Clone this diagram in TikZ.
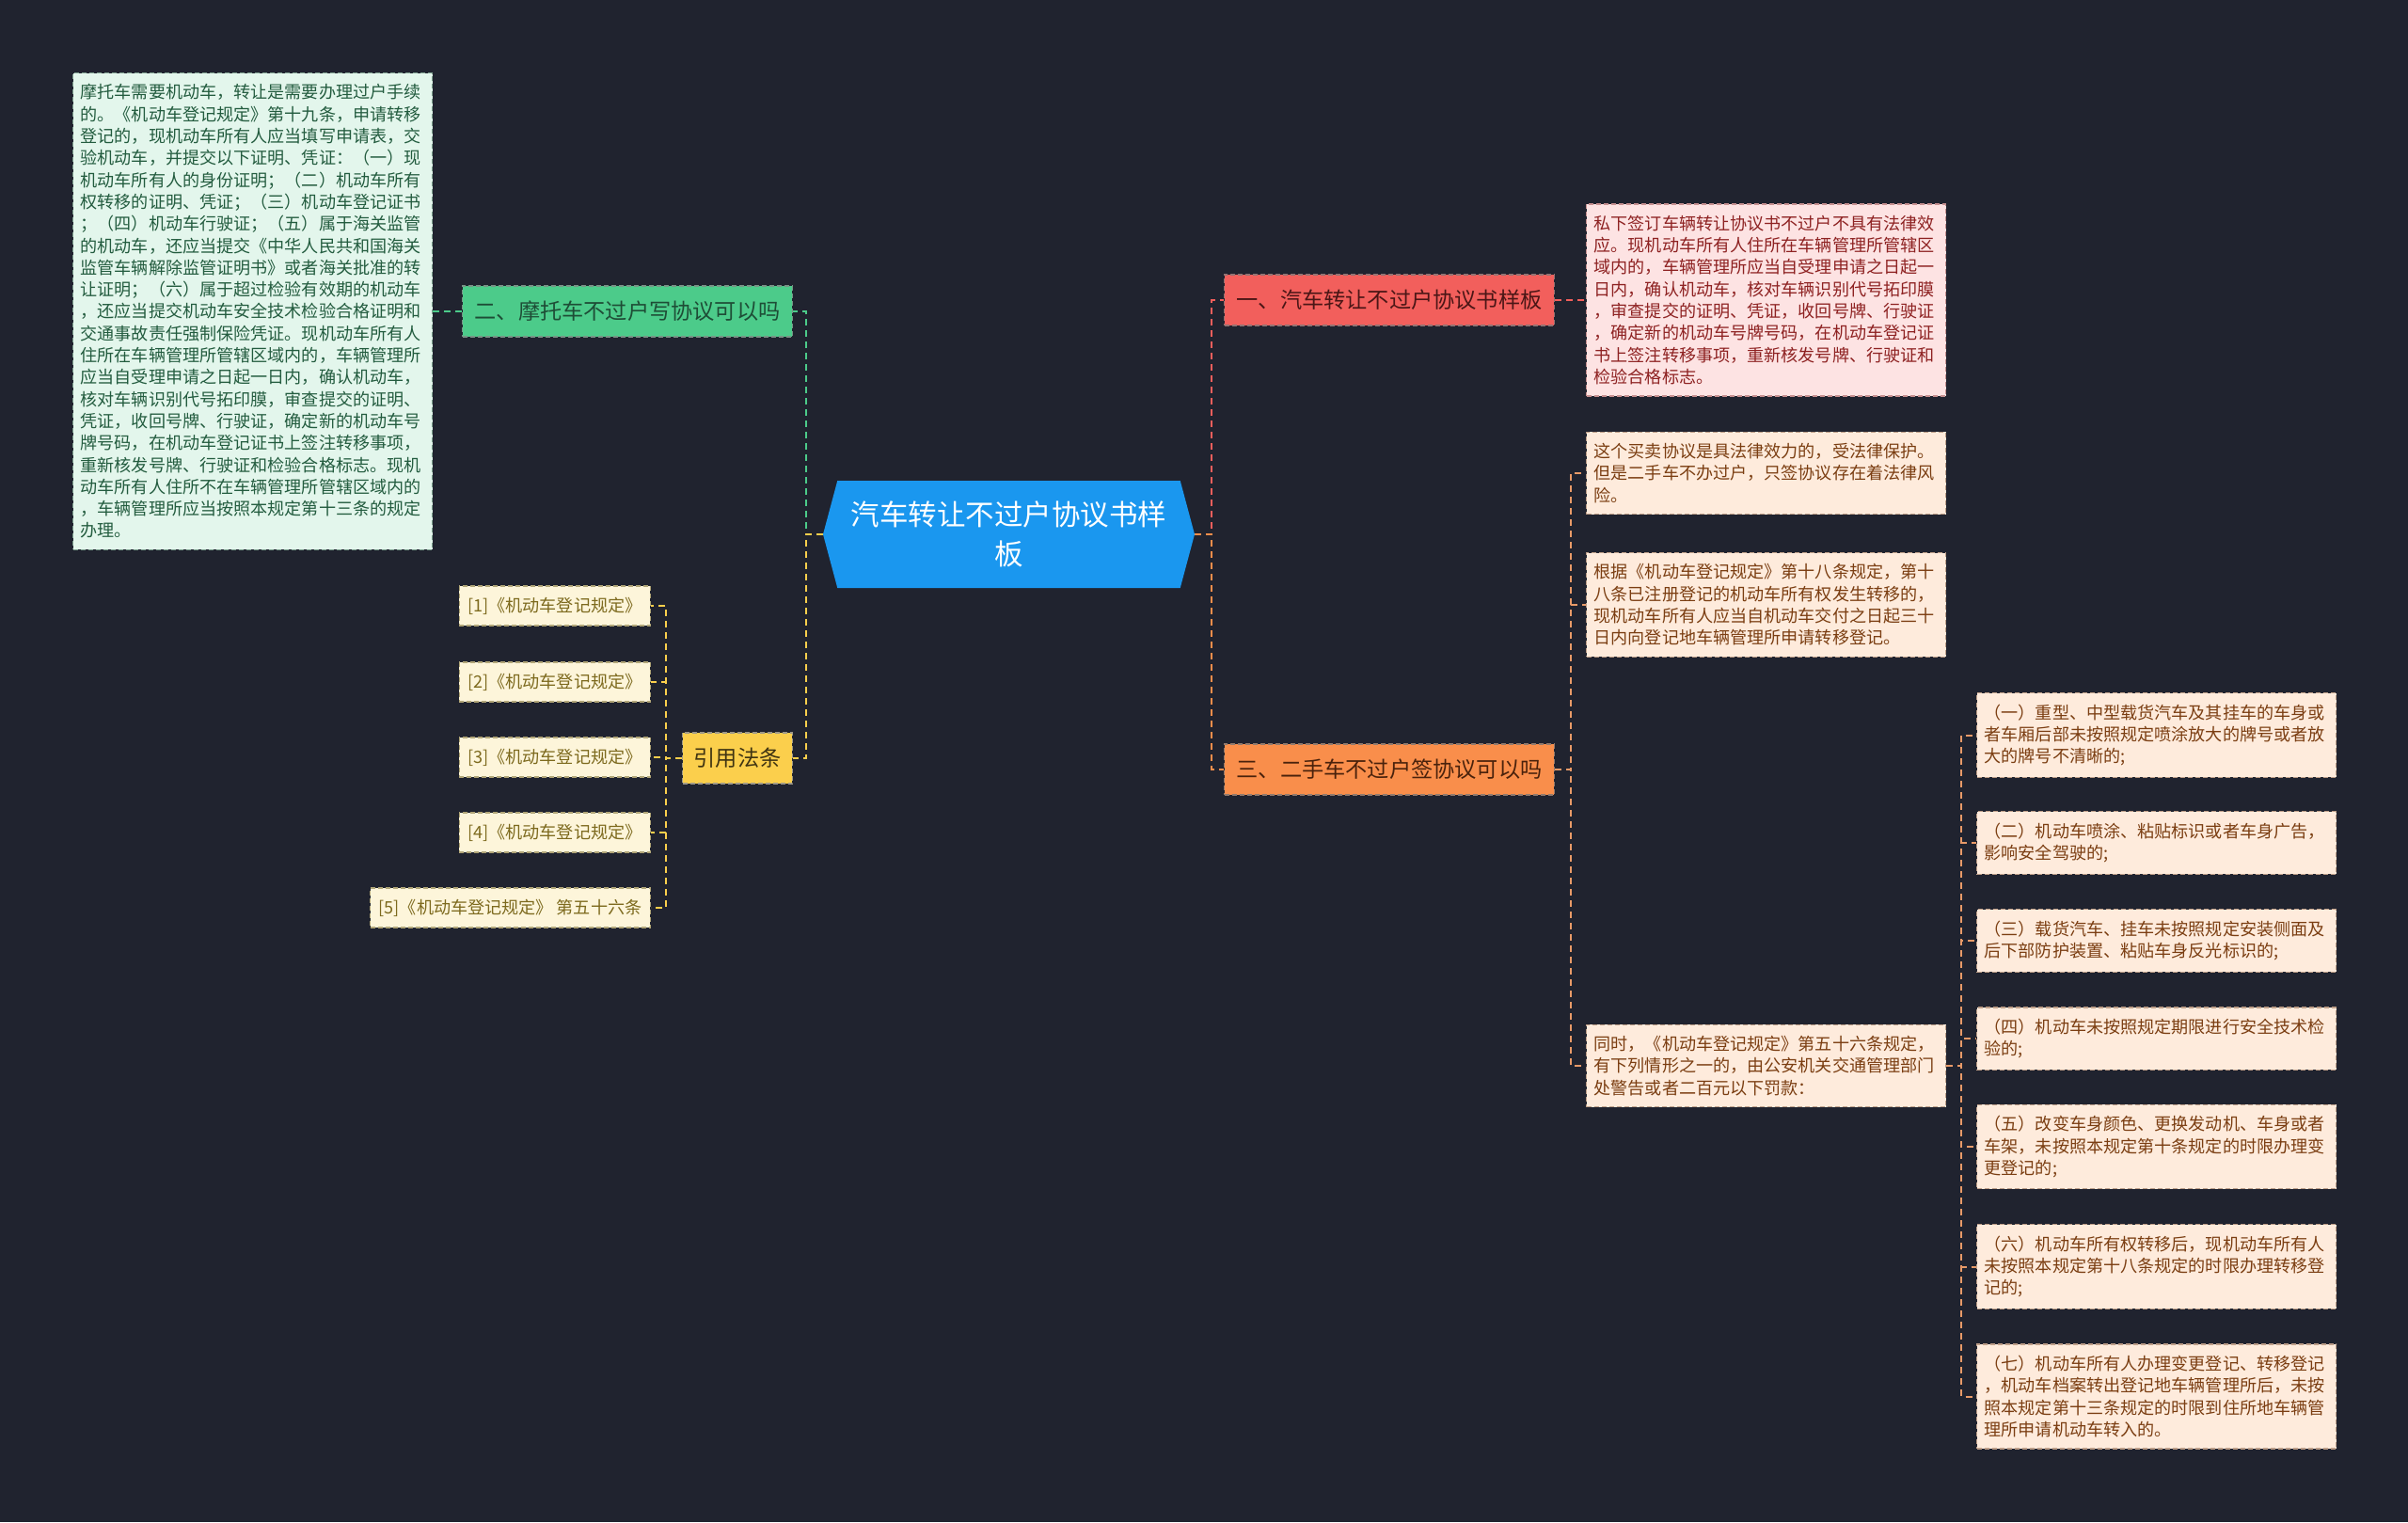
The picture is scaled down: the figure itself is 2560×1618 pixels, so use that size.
\documentclass[tikz,border=0pt]{standalone}
\usepackage{fontspec}
\setmainfont{Noto Sans CJK SC}
\usetikzlibrary{shapes.symbols}

\definecolor{bgnavy}{HTML}{20232F}
\definecolor{rootblue}{HTML}{1A97EF}
\definecolor{mintfill}{HTML}{4CCB8A}
\definecolor{minttext}{HTML}{1E4D36}
\definecolor{mintnote}{HTML}{E3F6EC}
\definecolor{mintink}{HTML}{235C3F}
\definecolor{lawfill}{HTML}{FBCF4C}
\definecolor{lawtext}{HTML}{3F3412}
\definecolor{citefill}{HTML}{FDF5DA}
\definecolor{citeink}{HTML}{7D6A1E}
\definecolor{redfill}{HTML}{F25F5C}
\definecolor{redtext}{HTML}{4B1616}
\definecolor{pinknote}{HTML}{FDE3E3}
\definecolor{pinkink}{HTML}{8E2222}
\definecolor{orangefill}{HTML}{F98E4B}
\definecolor{orangetext}{HTML}{4A220C}
\definecolor{peachnote}{HTML}{FEEBDC}
\definecolor{peachink}{HTML}{7B3E12}
\definecolor{peachline}{HTML}{E89A68}

\tikzset{
  linkline/.style={line width=2pt,dash pattern=on 7pt off 5pt},
  rootnode/.style={signal,signal to=west and east,signal pointer angle=150,
    fill=rootblue,text=white,minimum width=395pt,minimum height=114pt,
    align=center,inner sep=0pt,font=\fontsize{30.5}{42}\selectfont},
  boxedge/.style={draw,line width=1.2pt,dash pattern=on 5pt off 3pt},
  branchbox/.style={boxedge,minimum height=54pt,inner xsep=13pt,
    font=\fontsize{23.2}{28}\selectfont},
  notebox/.style={boxedge,text width=366pt,inner xsep=8pt,inner ysep=12pt,
    align=left,anchor=west,font=\fontsize{18.1}{23.3}\selectfont},
  citebox/.style={boxedge,fill=citefill,text=citeink,draw=citeink!60,
    minimum height=42pt,inner xsep=9pt,anchor=east,
    font=\fontsize{18.1}{22}\selectfont},
}

\begin{document}
\begin{tikzpicture}[x=1pt,y=-1pt]
  \fill[bgnavy] (0,0) rectangle (2560,1618);
  \useasboundingbox (0,0) rectangle (2560,1618);

  \node[rootnode] (root) at (1072.5,568) {汽车转让不过户协议书样\\板};

  \coordinate (ltrunk) at (857,568);
  \coordinate (rtrunk) at (1288,568);

  \node[branchbox,fill=mintfill,text=minttext,draw=minttext!60,anchor=west]
    (moto) at (491,331) {二、摩托车不过户写协议可以吗};
  \node[notebox,fill=mintnote,text=mintink,draw=mintink!60] (motonote) at (77,331) {%
    摩托车需要机动车，转让是需要办理过户手续\\
    的。《机动车登记规定》第十九条，申请转移\\
    登记的，现机动车所有人应当填写申请表，交\\
    验机动车，并提交以下证明、凭证：（一）现\\
    机动车所有人的身份证明；（二）机动车所有\\
    权转移的证明、凭证；（三）机动车登记证书\\
    ；（四）机动车行驶证；（五）属于海关监管\\
    的机动车，还应当提交《中华人民共和国海关\\
    监管车辆解除监管证明书》或者海关批准的转\\
    让证明；（六）属于超过检验有效期的机动车\\
    ，还应当提交机动车安全技术检验合格证明和\\
    交通事故责任强制保险凭证。现机动车所有人\\
    住所在车辆管理所管辖区域内的，车辆管理所\\
    应当自受理申请之日起一日内，确认机动车，\\
    核对车辆识别代号拓印膜，审查提交的证明、\\
    凭证，收回号牌、行驶证，确定新的机动车号\\
    牌号码，在机动车登记证书上签注转移事项，\\
    重新核发号牌、行驶证和检验合格标志。现机\\
    动车所有人住所不在车辆管理所管辖区域内的\\
    ，车辆管理所应当按照本规定第十三条的规定\\
    办理。};

  \node[branchbox,fill=lawfill,text=lawtext,draw=lawtext!50,anchor=west,inner xsep=12pt]
    (law) at (725,806) {引用法条};
  \coordinate (ctrunk) at (708,806);
  \node[citebox] (cite1) at (692,644) {[1]《机动车登记规定》};
  \node[citebox] (cite2) at (692,725) {[2]《机动车登记规定》};
  \node[citebox] (cite3) at (692,805) {[3]《机动车登记规定》};
  \node[citebox] (cite4) at (692,885) {[4]《机动车登记规定》};
  \node[citebox] (cite5) at (692,965) {[5]《机动车登记规定》 第五十六条};

  \node[branchbox,fill=redfill,text=redtext,draw=redtext!60,anchor=west]
    (sample) at (1301,319) {一、汽车转让不过户协议书样板};
  \node[notebox,fill=pinknote,text=pinkink,draw=pinkink!50] (samplenote) at (1686,319) {%
    私下签订车辆转让协议书不过户不具有法律效\\
    应。现机动车所有人住所在车辆管理所管辖区\\
    域内的，车辆管理所应当自受理申请之日起一\\
    日内，确认机动车，核对车辆识别代号拓印膜\\
    ，审查提交的证明、凭证，收回号牌、行驶证\\
    ，确定新的机动车号牌号码，在机动车登记证\\
    书上签注转移事项，重新核发号牌、行驶证和\\
    检验合格标志。};

  \node[branchbox,fill=orangefill,text=orangetext,draw=orangetext!60,anchor=west]
    (used) at (1301,818) {三、二手车不过户签协议可以吗};
  \coordinate (utrunk) at (1670,818);
  \tikzset{peachbox/.style={notebox,fill=peachnote,text=peachink,draw=peachink!50}}
  \node[peachbox] (valid) at (1686,503) {%
    这个买卖协议是具法律效力的，受法律保护。\\
    但是二手车不办过户，只签协议存在着法律风\\
    险。};
  \node[peachbox] (rule18) at (1686,643) {%
    根据《机动车登记规定》第十八条规定，第十\\
    八条已注册登记的机动车所有权发生转移的，\\
    现机动车所有人应当自机动车交付之日起三十\\
    日内向登记地车辆管理所申请转移登记。};
  \node[peachbox] (rule56) at (1686,1133) {%
    同时，《机动车登记规定》第五十六条规定，\\
    有下列情形之一的，由公安机关交通管理部门\\
    处警告或者二百元以下罚款：};

  \coordinate (ptrunk) at (2085,1133);
  \node[peachbox] (case1) at (2101,781.5) {%
    （一）重型、中型载货汽车及其挂车的车身或\\
    者车厢后部未按照规定喷涂放大的牌号或者放\\
    大的牌号不清晰的;};
  \node[peachbox] (case2) at (2101,896) {%
    （二）机动车喷涂、粘贴标识或者车身广告，\\
    影响安全驾驶的;};
  \node[peachbox] (case3) at (2101,1000) {%
    （三）载货汽车、挂车未按照规定安装侧面及\\
    后下部防护装置、粘贴车身反光标识的;};
  \node[peachbox] (case4) at (2101,1104) {%
    （四）机动车未按照规定期限进行安全技术检\\
    验的;};
  \node[peachbox] (case5) at (2101,1219) {%
    （五）改变车身颜色、更换发动机、车身或者\\
    车架，未按照本规定第十条规定的时限办理变\\
    更登记的;};
  \node[peachbox] (case6) at (2101,1346.5) {%
    （六）机动车所有权转移后，现机动车所有人\\
    未按照本规定第十八条规定的时限办理转移登\\
    记的;};
  \node[peachbox] (case7) at (2101,1484.5) {%
    （七）机动车所有人办理变更登记、转移登记\\
    ，机动车档案转出登记地车辆管理所后，未按\\
    照本规定第十三条规定的时限到住所地车辆管\\
    理所申请机动车转入的。};

  \draw[linkline,mintfill] (root.west) -- (ltrunk) |- (moto.east);
  \draw[linkline,lawfill] (root.west) -- (ltrunk) |- (law.east);
  \draw[linkline,mintfill] (moto.west) -- (motonote.east);
  \foreach \c in {cite1,cite2,cite3,cite4,cite5}
    \draw[linkline,lawfill] (law.west) -- (ctrunk) |- (\c.east);

  \draw[linkline,redfill] (root.east) -- (rtrunk) |- (sample.west);
  \draw[linkline,orangefill] (root.east) -- (rtrunk) |- (used.west);
  \draw[linkline,redfill] (sample.east) -- (samplenote.west);
  \foreach \c in {valid,rule18,rule56}
    \draw[linkline,peachline] (used.east) -- (utrunk) |- (\c.west);
  \foreach \c in {case1,case2,case3,case4,case5,case6,case7}
    \draw[linkline,peachline] (rule56.east) -- (ptrunk) |- (\c.west);
\end{tikzpicture}
\end{document}
